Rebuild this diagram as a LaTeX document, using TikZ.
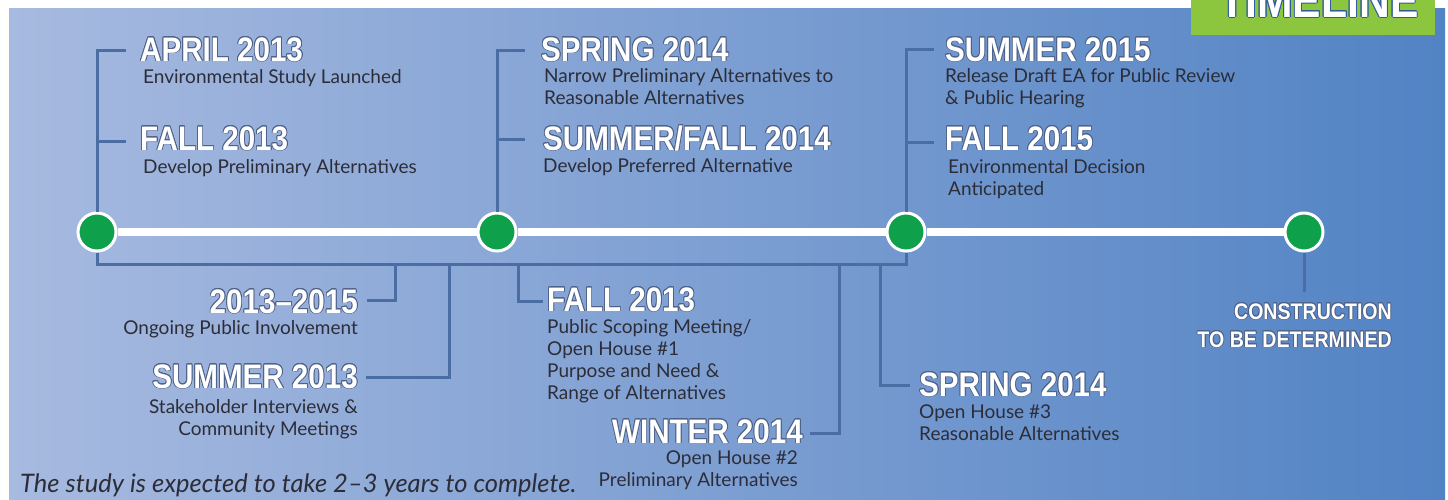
\documentclass[tikz,border=0pt]{standalone}
\usepackage{fontspec}
\usepackage{contour}
\setmainfont{Lato}
\newfontfamily\headfont{Liberation Sans}[FakeStretch=0.87]
\definecolor{bgL}{HTML}{A7BAE0}
\definecolor{bgR}{HTML}{5283C4}
\definecolor{linecol}{HTML}{4A6EA4}
\definecolor{outl}{HTML}{4F6288}
\definecolor{bodycol}{HTML}{2C2D38}
\definecolor{dotgreen}{HTML}{0EA04A}
\definecolor{boxgreen}{HTML}{8CC63F}
\definecolor{tlout}{HTML}{2F5C9E}
\contourlength{0.8pt}
\newcommand\hd[1]{\contour{outl}{#1}}
\newcommand\Lstack[1]{\begin{tabular}[t]{@{}l@{}}#1\end{tabular}}
\newcommand\Rstack[1]{\begin{tabular}[t]{@{}r@{}}#1\end{tabular}}
\tikzset{
  head/.style={text=white, font=\headfont\bfseries\fontsize{34}{34}\selectfont, inner sep=0pt},
  smallhead/.style={text=white, font=\headfont\bfseries\fontsize{22.5}{28}\selectfont, inner sep=0pt},
  body/.style={text=bodycol, font=\fontsize{19}{22}\selectfont, inner sep=0pt},
  ln/.style={draw=linecol, line width=3pt},
  dot/.style={circle, fill=dotgreen, draw=white, line width=3pt, minimum size=38pt, inner sep=0pt},
}
\begin{document}
\begin{tikzpicture}[x=1pt,y=-1pt]
\useasboundingbox (0,0) rectangle (1448,499);
\clip (0,0) rectangle (1448,499);
\fill[white] (0,0) rectangle (1448,499);
\shade[left color=bgL, right color=bgR] (9,8) rectangle (1445,499);
% title box
\fill[boxgreen] (1191,-2) rectangle (1435,35);
\node[text=white, font=\headfont\bfseries\fontsize{49}{49}\selectfont, inner sep=0pt, anchor=base] (title) at (1319,17) {\contourlength{1pt}\contour{tlout}{TIMELINE}};
% milestones
\node[dot] (c1) at (97,232) {};
\node[dot] (c2) at (497,232) {};
\node[dot] (c3) at (906,232) {};
\node[dot] (c4) at (1304,232) {};
\draw[white, line width=8pt] (c1) -- (c2);
\draw[white, line width=8pt] (c2) -- (c3);
\draw[white, line width=8pt] (c3) -- (c4);
% upper brackets
\coordinate (u1a) at (126,50);
\coordinate (u1b) at (126,141);
\coordinate (u2a) at (525,50);
\coordinate (u2b) at (525,139);
\coordinate (u3a) at (934,49);
\coordinate (u3b) at (934,142);
\draw[ln] (c1.north) |- (u1a);
\draw[ln] (c1 |- u1b) -- (u1b);
\draw[ln] (c2.north) |- (u2a);
\draw[ln] (c2 |- u2b) -- (u2b);
\draw[ln] (c3.north) |- (u3a);
\draw[ln] (c3 |- u3b) -- (u3b);
% lower bus
\coordinate (bus) at (500,264);
\draw[ln] (c1.south) |- (bus) -| (c3.south);
\coordinate (b1) at (395,264); \coordinate (e1) at (367,300);
\coordinate (b2) at (449,264); \coordinate (e2) at (366,377);
\coordinate (b3) at (518,264); \coordinate (e3) at (543,301);
\coordinate (b4) at (839,264); \coordinate (e4) at (810,433);
\coordinate (b5) at (880,264); \coordinate (e5) at (910,385);
\coordinate (e6) at (1304,292);
\draw[ln] (b1) |- (e1);
\draw[ln] (b2) |- (e2);
\draw[ln] (b3) |- (e3);
\draw[ln] (b4) |- (e4);
\draw[ln] (b5) |- (e5);
\draw[ln] (c4.south) -- (e6);
% upper labels
\node[head, anchor=base west] (h1) at (140,61) {\hd{APRIL 2013}};
\node[body, anchor=base west] (t1) at (143,83) {Environmental Study Launched};
\node[head, anchor=base west] (h2) at (140,150) {\hd{FALL 2013}};
\node[body, anchor=base west] (t2) at (143,173) {Develop Preliminary Alternatives};
\node[head, anchor=base west] (h3) at (541,61) {\hd{SPRING 2014}};
\node[body, anchor=base west] (t3) at (544,82) {\Lstack{Narrow Preliminary Alternatives to\\Reasonable Alternatives}};
\node[head, anchor=base west] (h4) at (543,150) {\hd{SUMMER/FALL 2014}};
\node[body, anchor=base west] (t4) at (543,172) {Develop Preferred Alternative};
\node[head, anchor=base west] (h5) at (945,61) {\hd{SUMMER 2015}};
\node[body, anchor=base west] (t5) at (945,82) {\Lstack{Release Draft EA for Public Review\\\& Public Hearing}};
\node[head, anchor=base west] (h6) at (945,150) {\hd{FALL 2015}};
\node[body, anchor=base west] (t6) at (948,173) {\Lstack{Environmental Decision\\Anticipated}};
% lower labels
\node[head, anchor=base east] (h7) at (358,313) {\hd{2013–2015}};
\node[body, anchor=base east] (t7) at (358,334) {Ongoing Public Involvement};
\node[head, anchor=base east] (h8) at (358,388) {\hd{SUMMER 2013}};
\node[body, anchor=base east] (t8) at (358,413) {\Rstack{Stakeholder Interviews \&\\Community Meetings}};
\node[head, anchor=base west] (h9) at (547,311) {\hd{FALL 2013}};
\node[body, anchor=base west] (t9) at (547,333) {\Lstack{Public Scoping Meeting/\\Open House \#1\\Purpose and Need \&\\Range of Alternatives}};
\node[head, anchor=base east] (h10) at (803,443) {\hd{WINTER 2014}};
\node[body, anchor=base east] (t10) at (798,464) {\Rstack{Open House \#2\\Preliminary Alternatives}};
\node[head, anchor=base west] (h11) at (919,396) {\hd{SPRING 2014}};
\node[body, anchor=base west] (t11) at (919,418) {\Lstack{Open House \#3\\Reasonable Alternatives}};
\node[smallhead, anchor=base east] (h12) at (1392,319) {\Rstack{\hd{CONSTRUCTION}\\\hd{TO BE DETERMINED}}};
% footer
\node[text=bodycol, font=\itshape\fontsize{25.5}{26}\selectfont, inner sep=0pt, anchor=base west] (foot) at (20,492) {The study is expected to take 2–3 years to complete.};
\end{tikzpicture}
\end{document}
